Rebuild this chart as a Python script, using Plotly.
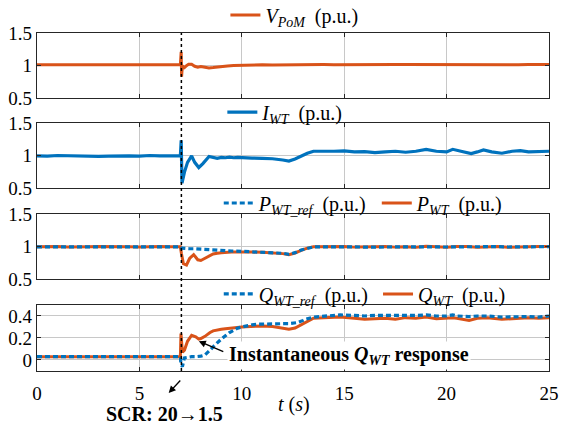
import plotly.graph_objects as go

ORANGE = "#D95319"
BLUE = "#0072BD"
FONT = "Liberation Serif, Times New Roman, serif"
T_EVENT = 7.05

# ---- PoM voltage ----
t_v = [0, 0.5, 1.0, 1.5, 2.0, 2.5, 3.0, 3.5, 4.0, 4.5, 5.0, 5.5, 6.0, 6.5, 7.0,
       7.04, 7.06, 7.08, 7.12, 7.2, 7.3, 7.4, 7.55, 7.7, 7.85, 8.0, 8.2, 8.4,
       8.6, 8.8, 9.0, 9.3, 9.6, 10.0, 10.5, 11.0, 11.5, 12.0, 12.5, 13.0, 13.5,
       14.0, 14.5, 15.0, 15.5, 16.0, 16.5, 17.0, 17.5, 18.0, 18.5, 19.0, 19.5,
       20.0, 20.5, 21.0, 21.5, 22.0, 22.5, 23.0, 23.5, 24.0, 24.5, 25.0]
v_pom = [1.015, 1.013, 1.016, 1.014, 1.015, 1.013, 1.015, 1.016, 1.014, 1.015,
         1.013, 1.015, 1.016, 1.014, 1.015,
         1.21, 0.83, 0.92, 0.99, 0.97, 1.0, 1.02, 1.02, 0.99, 0.975, 0.985,
         0.975, 0.965, 0.97, 0.98, 0.99, 0.995, 1.0, 1.005, 1.01, 1.012, 1.01,
         1.013, 1.012, 1.015, 1.014, 1.016, 1.015, 1.017, 1.015, 1.014, 1.016,
         1.015, 1.018, 1.016, 1.015, 1.017, 1.016, 1.018, 1.015, 1.017, 1.016,
         1.015, 1.017, 1.016, 1.015, 1.018, 1.016, 1.017]

# ---- WT current ----
t_i = [0, 0.5, 1.0, 1.5, 2.0, 2.5, 3.0, 3.5, 4.0, 4.5, 5.0, 5.5, 6.0, 6.5, 7.0,
       7.04, 7.08, 7.2, 7.35, 7.55, 7.7, 7.9, 8.1, 8.4, 8.6, 8.8, 9.0, 9.2,
       9.4, 9.6, 9.8, 10.0, 10.5, 11.0, 11.5, 12.0, 12.3, 12.6, 12.9, 13.2,
       13.5, 14.0, 14.5, 15.0, 15.5, 16.0, 16.5, 17.0, 17.5, 18.0, 18.5, 19.0,
       19.5, 20.0, 20.3, 20.7, 21.2, 21.5, 21.8, 22.2, 22.7, 23.2, 23.6, 24.0,
       24.5, 25.0]
i_wt = [1.0, 0.995, 1.005, 1.0, 1.005, 0.995, 0.99, 0.995, 1.0, 1.0, 0.995,
        1.005, 1.0, 0.995, 1.0,
        1.24, 0.58, 0.75, 0.9, 1.0, 0.9, 0.82, 0.88, 0.99, 0.97, 0.96, 0.975,
        0.97, 0.98, 0.97, 0.975, 0.97, 0.965, 0.96, 0.955, 0.935, 0.92, 0.95,
        1.0, 1.04, 1.07, 1.065, 1.07, 1.075, 1.06, 1.065, 1.05, 1.06, 1.07,
        1.055, 1.07, 1.1, 1.07, 1.06, 1.1, 1.07, 1.035, 1.06, 1.09, 1.06, 1.04,
        1.07, 1.08, 1.06, 1.065, 1.07]

# ---- WT active power ----
t_p = [0, 0.5, 1.0, 1.5, 2.0, 2.5, 3.0, 3.5, 4.0, 4.5, 5.0, 5.5, 6.0, 6.5, 7.0,
       7.05, 7.15, 7.3, 7.45, 7.65, 7.85, 8.0, 8.2, 8.4, 8.6, 8.8, 9.0, 9.5,
       10.0, 10.5, 11.0, 11.5, 12.0, 12.3, 12.6, 12.9, 13.2, 13.5, 14.0, 14.5,
       15.0, 15.5, 16.0, 16.5, 17.0, 17.5, 18.0, 18.5, 19.0, 19.5, 20.0, 20.5,
       21.0, 21.5, 22.0, 22.5, 23.0, 23.5, 24.0, 24.5, 25.0]
p_ref = [1.0, 1.0, 1.002, 1.0, 0.998, 1.0, 1.0, 1.002, 1.0, 1.0, 0.998, 1.0,
         1.002, 1.0, 1.0,
         0.98, 0.975, 0.975, 0.97, 0.97, 0.965, 0.965, 0.96, 0.955, 0.95,
         0.945, 0.94, 0.935, 0.93, 0.925, 0.92, 0.915, 0.9, 0.885, 0.91, 0.95,
         0.98, 1.0, 1.0, 1.002, 0.998, 1.0, 0.995, 1.0, 1.002, 0.998, 1.0,
         0.997, 1.005, 1.0, 0.997, 1.0, 1.003, 0.995, 1.0, 1.002, 0.997, 1.0,
         0.998, 1.0, 1.002]
p_wt = [1.0, 1.003, 1.005, 0.997, 0.995, 1.0, 1.003, 1.005, 0.998, 1.0, 0.997,
        1.002, 1.005, 1.0, 1.0,
        0.9, 0.74, 0.72, 0.82, 0.88, 0.8, 0.79, 0.82, 0.86, 0.89, 0.9, 0.91,
        0.92, 0.925, 0.92, 0.915, 0.91, 0.895, 0.88, 0.905, 0.945, 0.98, 1.0,
        1.002, 0.997, 1.005, 0.995, 0.993, 1.0, 1.004, 0.995, 1.0, 0.993,
        1.008, 1.0, 0.994, 1.003, 1.006, 0.992, 1.0, 1.005, 0.994, 1.0, 0.996,
        1.003, 1.005]

# ---- WT reactive power ----
t_q = [0, 0.5, 1.0, 1.5, 2.0, 2.5, 3.0, 3.5, 4.0, 4.5, 5.0, 5.5, 6.0, 6.5, 7.0,
       7.03, 7.06, 7.1, 7.2, 7.35, 7.55, 7.75, 7.9, 8.0, 8.2, 8.3, 8.45, 8.6,
       8.8, 9.0, 9.2, 9.4, 9.6, 9.8, 10.0, 10.2, 10.5, 10.8, 11.0, 11.5, 12.0,
       12.3, 12.6, 12.7, 13.0, 13.1, 13.5, 14.0, 14.8, 15.5, 16.0, 16.5, 17.0,
       17.5, 18.0, 18.5, 19.0, 19.5, 20.0, 20.3, 20.5, 21.1, 21.5, 22.0, 22.7,
       23.3, 24.0, 24.5, 25.0]
q_ref = [0.03, 0.03, 0.03, 0.03, 0.03, 0.03, 0.03, 0.03, 0.03, 0.03, 0.03,
         0.03, 0.03, 0.03, 0.03,
         -0.04, -0.06, -0.06, 0.02, 0.025, 0.03, 0.03, 0.03, 0.035, 0.045,
         0.06, 0.09, 0.12, 0.16, 0.19, 0.22, 0.25, 0.27, 0.29, 0.3, 0.31,
         0.32, 0.325, 0.327, 0.33, 0.33, 0.33, 0.335, 0.34, 0.36, 0.37, 0.39,
         0.40, 0.41, 0.405, 0.40, 0.405, 0.405, 0.40, 0.40, 0.405, 0.41, 0.40,
         0.40, 0.41, 0.40, 0.395, 0.40, 0.40, 0.39, 0.395, 0.395, 0.39, 0.40]
q_wt = [0.03, 0.03, 0.03, 0.03, 0.03, 0.03, 0.03, 0.03, 0.03, 0.03, 0.03,
        0.03, 0.03, 0.03, 0.03,
        0.24, 0.15, 0.07, 0.09, 0.17, 0.225, 0.21, 0.19, 0.195, 0.215, 0.23,
        0.25, 0.265, 0.275, 0.28, 0.285, 0.29, 0.295, 0.298, 0.30, 0.303,
        0.305, 0.31, 0.31, 0.305, 0.29, 0.28, 0.29, 0.30, 0.33, 0.34, 0.38,
        0.385, 0.39, 0.38, 0.37, 0.375, 0.38, 0.37, 0.385, 0.38, 0.39, 0.375,
        0.385, 0.385, 0.38, 0.36, 0.38, 0.385, 0.37, 0.38, 0.385, 0.38, 0.385]

# y-axis ticks per panel
pu_ticks = [0.5, 1, 1.5]
pu_labels = ["0.5", "1", "1.5"]
q_ticks = [0, 0.2, 0.4]
q_labels = ["0", "0.2", "0.4"]
t_ticks = [0, 5, 10, 15, 20, 25]

NB = "\u00a0"
fig = go.Figure()

fig.add_trace(go.Scatter(
    x=t_v, y=v_pom, mode="lines", line=dict(color=ORANGE, width=3),
    name=f"<i>V</i><sub><i>PoM</i></sub>{NB}{NB}(p.u.)",
    xaxis="x", yaxis="y", legend="legend"))

fig.add_trace(go.Scatter(
    x=t_i, y=i_wt, mode="lines", line=dict(color=BLUE, width=3.2),
    name=f"<i>I</i><sub><i>WT</i></sub>{NB}{NB}(p.u.)",
    xaxis="x2", yaxis="y2", legend="legend2"))

fig.add_trace(go.Scatter(
    x=t_p, y=p_wt, mode="lines", line=dict(color=ORANGE, width=3),
    name=f"<i>P</i><sub><i>WT</i></sub>{NB}{NB}(p.u.)", legendrank=2,
    xaxis="x3", yaxis="y3", legend="legend3"))
fig.add_trace(go.Scatter(
    x=t_p, y=p_ref, mode="lines", line=dict(color=BLUE, width=3.2, dash="5px,3px"),
    name=f"<i>P</i><sub><i>WT_ref</i></sub>{NB}{NB}(p.u.){NB}", legendrank=1,
    xaxis="x3", yaxis="y3", legend="legend3"))

fig.add_trace(go.Scatter(
    x=t_q, y=q_wt, mode="lines", line=dict(color=ORANGE, width=3),
    name=f"<i>Q</i><sub><i>WT</i></sub>{NB}{NB}(p.u.)", legendrank=2,
    xaxis="x4", yaxis="y4", legend="legend4"))
fig.add_trace(go.Scatter(
    x=t_q, y=q_ref, mode="lines", line=dict(color=BLUE, width=3.2, dash="5px,3px"),
    name=f"<i>Q</i><sub><i>WT_ref</i></sub>{NB}{NB}(p.u.){NB}", legendrank=1,
    xaxis="x4", yaxis="y4", legend="legend4"))

axis_style = dict(
    showline=True, linecolor="#262626", linewidth=1.2, mirror="ticks",
    ticks="inside", ticklen=4, tickcolor="#262626", tickwidth=1,
    showgrid=True, gridcolor="#c8c8c8", gridwidth=1, zeroline=False,
    tickfont=dict(family=FONT, size=19, color="black"),
)

domains = [[0.807, 1.0], [0.5405, 0.7328], [0.2713, 0.4636], [0.0, 0.1953]]
for k in range(4):
    sfx = "" if k == 0 else str(k + 1)
    fig.layout["xaxis" + sfx] = dict(
        axis_style, domain=[0, 1], range=[0, 25], anchor="y" + sfx,
        tickvals=t_ticks, showticklabels=(k == 3), ticklabelstandoff=5)
    if k < 3:
        fig.layout["yaxis" + sfx] = dict(
            axis_style, domain=domains[k], range=[0.5, 1.5], anchor="x" + sfx,
            tickvals=pu_ticks, ticktext=pu_labels)
    else:
        fig.layout["yaxis" + sfx] = dict(
            axis_style, domain=domains[k], range=[-0.1, 0.5], anchor="x" + sfx,
            tickvals=q_ticks, ticktext=q_labels)

legend_style = dict(orientation="h", xanchor="left", yanchor="middle",
                    font=dict(family=FONT, size=20, color="black"),
                    bgcolor="rgba(255,255,255,0)", borderwidth=0,
                    tracegroupgap=0, itemwidth=30)
fig.update_layout(
    legend=dict(legend_style, x=0.368, y=1.053),
    legend2=dict(legend_style, x=0.362, y=0.766),
    legend3=dict(legend_style, x=0.355, y=0.497),
    legend4=dict(legend_style, x=0.355, y=0.228),
)

# event marker across all panels
fig.add_shape(type="line", xref="x4", yref="paper", x0=T_EVENT, x1=T_EVENT,
              y0=0, y1=1, line=dict(color="black", width=1.5, dash="dot"))

ann_font = dict(family=FONT, size=20, color="black")
fig.add_annotation(
    x=9.26, y=0.043, xref="x4", yref="y4", xanchor="left", yanchor="middle",
    text="<b>Instantaneous <i>Q</i><sub><i>WT</i></sub> response</b>",
    showarrow=False, bgcolor="white", font=ann_font, borderpad=1)
fig.add_annotation(
    x=7.9, y=0.171, xref="x4", yref="y4", text="", showarrow=True,
    ax=26, ay=11, arrowhead=2, arrowsize=1, arrowwidth=1.4, arrowcolor="black")
fig.add_annotation(
    x=6.23, y=-0.126, xref="x4", yref="paper", yanchor="middle",
    text="<b>SCR: 20\u21921.5</b>", showarrow=False, font=ann_font)
fig.add_annotation(
    x=6.43, y=-0.065, xref="x4", yref="paper", text="", showarrow=True,
    ax=13, ay=-14, arrowhead=2, arrowsize=1, arrowwidth=1.4, arrowcolor="black")
fig.add_annotation(
    x=12.57, y=-0.10, xref="x4", yref="paper", yanchor="middle",
    text="<i>t</i> (<i>s</i>)", showarrow=False,
    font=dict(family=FONT, size=20, color="black"))

fig.update_layout(
    width=565, height=426,
    margin=dict(l=37, r=16, t=33, b=55, autoexpand=False),
    paper_bgcolor="white", plot_bgcolor="white",
    font=dict(family=FONT, size=19, color="black"),
    showlegend=True,
)

fig.write_html("out.html")
